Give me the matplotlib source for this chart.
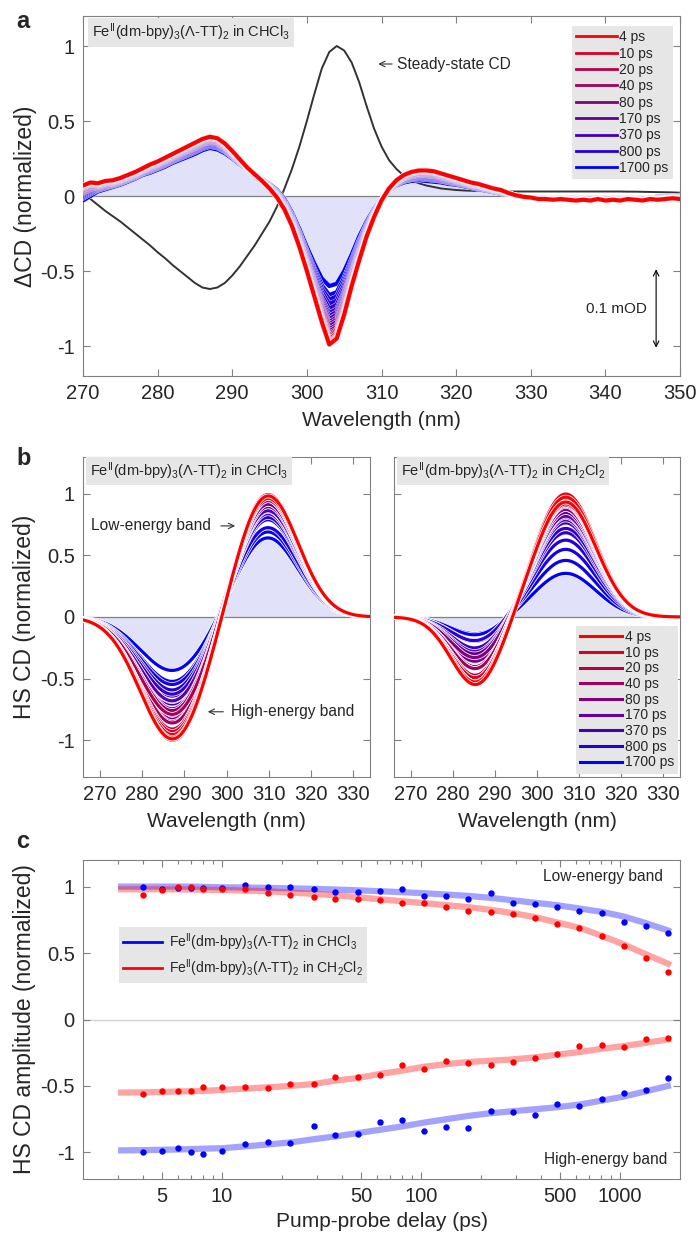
import numpy as np
import matplotlib
matplotlib.use("Agg")
import matplotlib.pyplot as plt
from matplotlib import patheffects as pe
from matplotlib.lines import Line2D
from matplotlib.ticker import FixedLocator, FixedFormatter, NullFormatter

plt.rcParams['font.family'] = ['Liberation Sans', 'DejaVu Sans']
plt.rcParams['mathtext.default'] = 'regular'
plt.rcParams['axes.unicode_minus'] = False

# ---------------- data ----------------
# pump-probe delays (ps)
delays = [4, 5, 6, 7, 8, 10, 13, 17, 22, 29, 37, 48, 62, 80, 104, 134, 173,
          224, 289, 374, 482, 625, 809, 1042, 1349, 1740]
legend_labels = ['4 ps', '10 ps', '20 ps', '40 ps', '80 ps', '170 ps',
                 '370 ps', '800 ps', '1700 ps']
legend_idx = [0, 5, 8, 10, 13, 16, 19, 22, 25]

# panel a: transient CD spectra (normalized), 270-350 nm in 1 nm steps
wl_a = np.arange(270, 351)
dcd_early = [0.07, 0.09, 0.085, 0.10, 0.105, 0.12, 0.14, 0.16, 0.185, 0.21,
             0.23, 0.255, 0.28, 0.305, 0.33, 0.355, 0.38, 0.395, 0.385, 0.35,
             0.30, 0.245, 0.19, 0.145, 0.10, 0.05, -0.01, -0.09, -0.20, -0.34,
             -0.50, -0.67, -0.84, -0.99, -0.95, -0.79, -0.60, -0.43, -0.27, -0.14,
             -0.03, 0.05, 0.105, 0.14, 0.16, 0.17, 0.17, 0.165, 0.15, 0.135,
             0.12, 0.105, 0.09, 0.08, 0.065, 0.05, 0.04, 0.02, 0.005, -0.005,
             -0.01, -0.02, -0.02, -0.025, -0.02, -0.025, -0.03, -0.025, -0.03, -0.02,
             -0.03, -0.025, -0.03, -0.02, -0.025, -0.03, -0.02, -0.025, -0.02, -0.015,
             -0.02]
dcd_late = [-0.03, 0.0, 0.03, 0.045, 0.06, 0.075, 0.095, 0.115, 0.14, 0.155,
            0.175, 0.195, 0.22, 0.24, 0.26, 0.28, 0.305, 0.32, 0.31, 0.285,
            0.25, 0.21, 0.175, 0.145, 0.115, 0.08, 0.04, -0.02, -0.11, -0.22,
            -0.34, -0.45, -0.55, -0.60, -0.585, -0.50, -0.39, -0.27, -0.17, -0.085,
            -0.02, 0.035, 0.07, 0.09, 0.10, 0.105, 0.10, 0.095, 0.09, 0.08,
            0.075, 0.065, 0.055, 0.045, 0.035, 0.025, 0.015, 0.01, 0.0, -0.005,
            -0.01, -0.015, -0.02, -0.015, -0.02, -0.02, -0.015, -0.02, -0.02, -0.015,
            -0.02, -0.02, -0.015, -0.02, -0.015, -0.02, -0.01, -0.005, -0.005, 0.0,
            0.005]
# depth of the 303 nm bleach for every delay
bleach_depth = [-0.99, -0.99, -0.985, -0.98, -0.98, -0.975, -0.97, -0.965,
                -0.955, -0.95, -0.94, -0.93, -0.92, -0.905, -0.89, -0.87, -0.855,
                -0.84, -0.82, -0.80, -0.78, -0.75, -0.72, -0.69, -0.66, -0.60]
# steady-state CD (normalized)
cd_steady = [0.01, -0.02, -0.06, -0.10, -0.135, -0.17, -0.21, -0.25, -0.29, -0.33,
             -0.375, -0.415, -0.46, -0.50, -0.54, -0.58, -0.61, -0.62, -0.61, -0.58,
             -0.53, -0.47, -0.40, -0.33, -0.25, -0.17, -0.07, 0.05, 0.18, 0.33,
             0.50, 0.68, 0.85, 0.96, 1.0, 0.97, 0.89, 0.76, 0.60, 0.45,
             0.33, 0.24, 0.18, 0.135, 0.105, 0.085, 0.07, 0.06, 0.05, 0.045,
             0.04, 0.037, 0.035, 0.033, 0.032, 0.031, 0.03, 0.03, 0.03, 0.03,
             0.03, 0.03, 0.03, 0.03, 0.03, 0.03, 0.03, 0.03, 0.03, 0.03,
             0.03, 0.03, 0.03, 0.029, 0.029, 0.028, 0.027, 0.026, 0.025, 0.024,
             0.022]

# panel c: HS CD band amplitudes
chcl3_low = [1.00, 0.98, 0.99, 0.99, 0.99, 0.99, 1.01, 1.00, 1.00, 0.98, 0.96,
             0.96, 0.97, 0.98, 0.93, 0.93, 0.91, 0.95, 0.875, 0.87, 0.85, 0.82,
             0.80, 0.735, 0.70, 0.65]
ch2cl2_low = [0.935, 0.975, 1.00, 1.00, 0.98, 0.98, 0.98, 0.955, 0.94, 0.92,
              0.91, 0.91, 0.90, 0.875, 0.875, 0.85, 0.82, 0.81, 0.79, 0.765,
              0.72, 0.685, 0.625, 0.55, 0.46, 0.355]
ch2cl2_high = [-0.56, -0.54, -0.54, -0.54, -0.505, -0.51, -0.51, -0.515, -0.485,
               -0.485, -0.43, -0.43, -0.415, -0.34, -0.37, -0.31, -0.325, -0.345,
               -0.32, -0.29, -0.26, -0.20, -0.195, -0.205, -0.15, -0.14]
chcl3_high = [-1.00, -0.99, -0.965, -1.00, -1.01, -0.99, -0.94, -0.92, -0.93,
              -0.80, -0.87, -0.86, -0.77, -0.755, -0.84, -0.81, -0.815, -0.69,
              -0.695, -0.715, -0.635, -0.65, -0.60, -0.555, -0.53, -0.44]

# kinetic fits
fit_t = [3, 4, 5, 6, 7, 8, 10, 13, 17, 22, 29, 37, 48, 62, 80, 104, 134, 173,
         224, 289, 374, 482, 625, 809, 1042, 1349, 1740, 1800]
fit_chcl3_low = [1.0, 1.0, 1.0, 1.0, 1.0, 0.998, 0.995, 0.993, 0.99, 0.987,
                 0.983, 0.978, 0.972, 0.965, 0.958, 0.95, 0.94, 0.93, 0.915,
                 0.897, 0.878, 0.86, 0.835, 0.81, 0.775, 0.725, 0.67, 0.66]
fit_ch2cl2_low = [0.98, 0.98, 0.98, 0.979, 0.978, 0.977, 0.975, 0.97, 0.965,
                  0.955, 0.945, 0.935, 0.92, 0.905, 0.89, 0.875, 0.86, 0.845,
                  0.825, 0.80, 0.77, 0.73, 0.69, 0.63, 0.565, 0.49, 0.42, 0.41]
fit_ch2cl2_high = [-0.55, -0.548, -0.545, -0.542, -0.54, -0.537, -0.53, -0.52,
                   -0.51, -0.50, -0.485, -0.46, -0.44, -0.41, -0.385, -0.355,
                   -0.335, -0.32, -0.31, -0.30, -0.285, -0.265, -0.245, -0.22,
                   -0.20, -0.175, -0.15, -0.148]
fit_chcl3_high = [-0.985, -0.983, -0.98, -0.978, -0.975, -0.972, -0.968, -0.955,
                  -0.94, -0.925, -0.90, -0.88, -0.855, -0.83, -0.805, -0.775,
                  -0.75, -0.725, -0.705, -0.69, -0.675, -0.66, -0.64, -0.61,
                  -0.58, -0.54, -0.50, -0.495]

# panel b: Gaussian band parameters (centre nm, width nm)
bands_chcl3 = {'high': (287.4, 7.8), 'low': (309.6, 7.3)}
bands_ch2cl2 = {'high': (285.6, 6.0), 'low': (306.8, 7.2)}

# ---------------- styling ----------------
GRAY = '#808080'
TXT = '#262626'
LAV = '#e1e1f9'
BOXC = '#e6e6e6'
TICK = 14.5
LAB = 15


def delay_color(t):
    f = np.log(t / delays[0]) / np.log(delays[-1] / delays[0])
    f = min(max(f, 0.0), 1.0)
    return (1 - f, 0.0, f)


colors = [delay_color(t) for t in delays]


def style(ax):
    for s in ax.spines.values():
        s.set_color(GRAY)
        s.set_linewidth(0.8)
    ax.tick_params(direction='in', top=True, right=True, length=5, width=0.8,
                   color=GRAY, labelsize=TICK, labelcolor=TXT, pad=6)
    ax.tick_params(which='minor', direction='in', top=True, right=True,
                   length=3, width=0.8, color=GRAY)


W, H = 700, 1235
fig = plt.figure(figsize=(W / 100, H / 100), dpi=100)


def add_ax(x0, y0, x1, y1):
    return fig.add_axes([x0 / W, 1 - y1 / H, (x1 - x0) / W, (y1 - y0) / H])


yt = [-1, -0.5, 0, 0.5, 1]
ytl = ['-1', '-0.5', '0', '0.5', '1']

# ---------------- panel a ----------------
axa = add_ax(83, 16, 680, 376)
early = np.array(dcd_early)
late = np.array(dcd_late)
depth = np.array(bleach_depth)
frac = (depth - depth[0]) / (depth[-1] - depth[0])
spectra = [(1 - w) * early + w * late for w in frac]

axa.fill_between(wl_a, 0, spectra[-1], color=LAV, lw=0, zorder=1)
axa.axhline(0, color=GRAY, lw=0.9, zorder=2)
axa.plot(wl_a, cd_steady, color='#333333', lw=1.4, zorder=3)
for i in range(len(delays) - 1, -1, -1):
    axa.plot(wl_a, spectra[i], color=colors[i], lw=3.0,
             zorder=4 + (len(delays) - i) * 0.01,
             path_effects=[pe.Stroke(linewidth=3.6, foreground='white'), pe.Normal()])
axa.set_xlim(270, 350)
axa.set_ylim(-1.2, 1.2)
axa.set_xticks(range(270, 351, 10))
axa.set_yticks(yt)
axa.set_yticklabels(ytl)
style(axa)
axa.set_xlabel('Wavelength (nm)', fontsize=LAB, color=TXT)
axa.xaxis.set_label_coords(0.5, -0.097)
axa.set_ylabel('ΔCD (normalized)', fontsize=16.5, color=TXT)
axa.yaxis.set_label_coords(-0.077, 0.5)

axa.text(0.015, 0.954, r'Fe$^{II}$(dm-bpy)$_3$(Λ-TT)$_2$ in CHCl$_3$', transform=axa.transAxes,
         fontsize=10.5, color=TXT, va='center', ha='left',
         bbox=dict(facecolor=BOXC, edgecolor='none', pad=2.5))
axa.annotate('', xy=(309.2, 0.88), xytext=(311.8, 0.88),
             arrowprops=dict(arrowstyle='->', color='#333333', lw=0.8))
axa.text(312.1, 0.88, 'Steady-state CD', fontsize=11.2, color=TXT, va='center', ha='left')
axa.annotate('', xy=(346.8, -0.47), xytext=(346.8, -1.03),
             arrowprops=dict(arrowstyle='<->', color='black', lw=0.8))
axa.text(345.6, -0.75, '0.1 mOD', fontsize=11, color=TXT, va='center', ha='right')

handles = [Line2D([], [], color=colors[i], lw=2) for i in legend_idx]
lga = axa.legend(handles, legend_labels, loc='upper right', bbox_to_anchor=(0.988, 0.972),
                 fontsize=10, frameon=True, facecolor=BOXC, edgecolor='none', framealpha=1,
                 fancybox=False, handlelength=2.9, handletextpad=0.2, labelspacing=0.17,
                 borderpad=0.3, borderaxespad=0)
for t in lga.get_texts():
    t.set_color(TXT)

# ---------------- panel b ----------------
wl_b = np.linspace(266, 334, 400)


def gauss(x, c, s):
    return np.exp(-0.5 * ((x - c) / s) ** 2)


def panel_b(ax, bands, amp_low, amp_high, label):
    gh = gauss(wl_b, *bands['high'])
    gl = gauss(wl_b, *bands['low'])
    curves = [al * gl + ah * gh for al, ah in zip(amp_low, amp_high)]
    ax.fill_between(wl_b, 0, curves[-1], color=LAV, lw=0, zorder=1)
    ax.axhline(0, color=GRAY, lw=0.9, zorder=2)
    for i in range(len(curves) - 1, -1, -1):
        ax.plot(wl_b, curves[i], color=colors[i], lw=2.3, zorder=4 + (len(curves) - i) * 0.01,
                path_effects=[pe.Stroke(linewidth=3.4, foreground='white'), pe.Normal()])
    ax.set_xlim(266, 334)
    ax.set_ylim(-1.3, 1.3)
    ax.set_xticks(range(270, 331, 10))
    ax.set_yticks(yt)
    style(ax)
    ax.set_xlabel('Wavelength (nm)', fontsize=LAB, color=TXT)
    ax.xaxis.set_label_coords(0.5, -0.11)
    ax.text(0.024, 0.956, label, transform=ax.transAxes, fontsize=10.5, color=TXT,
            va='center', ha='left', bbox=dict(facecolor=BOXC, edgecolor='none', pad=2.5))


axb1 = add_ax(83, 457, 370, 777)
panel_b(axb1, bands_chcl3, chcl3_low, chcl3_high,
        r'Fe$^{II}$(dm-bpy)$_3$(Λ-TT)$_2$ in CHCl$_3$')
axb1.set_yticklabels(ytl)
axb1.set_ylabel('HS CD (normalized)', fontsize=16.5, color=TXT)
axb1.yaxis.set_label_coords(-0.164, 0.5)
axb1.annotate('', xy=(302.7, 0.74), xytext=(298.0, 0.74),
              arrowprops=dict(arrowstyle='->', color='#333333', lw=0.8))
axb1.text(267.9, 0.74, 'Low-energy band', fontsize=11.2, color=TXT, va='center', ha='left')
axb1.annotate('', xy=(294.9, -0.77), xytext=(299.9, -0.77),
              arrowprops=dict(arrowstyle='->', color='#333333', lw=0.8))
axb1.text(301.1, -0.77, 'High-energy band', fontsize=11.2, color=TXT, va='center', ha='left')

axb2 = add_ax(394, 457, 680, 777)
panel_b(axb2, bands_ch2cl2, ch2cl2_low, ch2cl2_high,
        r'Fe$^{II}$(dm-bpy)$_3$(Λ-TT)$_2$ in CH$_2$Cl$_2$')
axb2.set_yticklabels([])
handles_b = [Line2D([], [], color=colors[i], lw=2.2) for i in legend_idx]
lgb = axb2.legend(handles_b, legend_labels, loc='upper right', bbox_to_anchor=(0.993, 0.472),
                  fontsize=10, frameon=True, facecolor=BOXC, edgecolor='none', framealpha=1,
                  fancybox=False, handlelength=3.0, handletextpad=0.2, labelspacing=0.12,
                  borderpad=0.3, borderaxespad=0)
for t in lgb.get_texts():
    t.set_color(TXT)

# ---------------- panel c ----------------
axc = add_ax(83, 860, 680, 1179)
BLUE = '#0000ff'
RED = '#ff0000'
axc.axhline(0, color='#d4d4d4', lw=1.0, zorder=1)
for fy, c in [(fit_chcl3_low, BLUE), (fit_ch2cl2_low, RED),
              (fit_ch2cl2_high, RED), (fit_chcl3_high, BLUE)]:
    axc.plot(fit_t, fy, color=c, lw=4.5, alpha=0.36, solid_capstyle='butt', zorder=2)
for py, c in [(chcl3_low, BLUE), (ch2cl2_low, RED),
              (ch2cl2_high, RED), (chcl3_high, BLUE)]:
    axc.plot(delays, py, 'o', color=c, ms=4.6, mew=0, zorder=3)
axc.set_xscale('log')
axc.set_xlim(2, 2000)
axc.set_ylim(-1.2, 1.2)
axc.xaxis.set_major_locator(FixedLocator([5, 10, 50, 100, 500, 1000]))
axc.xaxis.set_major_formatter(FixedFormatter(['5', '10', '50', '100', '500', '1000']))
axc.xaxis.set_minor_locator(FixedLocator([3, 4, 6, 7, 8, 9, 20, 30, 40, 60, 70, 80, 90,
                                          200, 300, 400, 600, 700, 800, 900]))
axc.xaxis.set_minor_formatter(NullFormatter())
axc.set_yticks(yt)
axc.set_yticklabels(ytl)
style(axc)
axc.set_xlabel('Pump-probe delay (ps)', fontsize=LAB, color=TXT)
axc.xaxis.set_label_coords(0.5, -0.105)
axc.set_ylabel('HS CD amplitude (normalized)', fontsize=16.5, color=TXT)
axc.yaxis.set_label_coords(-0.079, 0.5)
axc.text(0.972, 0.947, 'Low-energy band', transform=axc.transAxes, fontsize=11.2,
         color=TXT, ha='right', va='center')
axc.text(0.978, 0.06, 'High-energy band', transform=axc.transAxes, fontsize=11.2,
         color=TXT, ha='right', va='center')
hc = [Line2D([], [], color=BLUE, lw=2), Line2D([], [], color=RED, lw=2)]
lgc = axc.legend(hc, [r'Fe$^{II}$(dm-bpy)$_3$(Λ-TT)$_2$ in CHCl$_3$',
                      r'Fe$^{II}$(dm-bpy)$_3$(Λ-TT)$_2$ in CH$_2$Cl$_2$'],
                 loc='upper left', bbox_to_anchor=(0.06, 0.79), fontsize=10,
                 frameon=True, facecolor=BOXC, edgecolor='none', framealpha=1,
                 fancybox=False, handlelength=2.8, handletextpad=0.5, labelspacing=0.35,
                 borderpad=0.3, borderaxespad=0)
for t in lgc.get_texts():
    t.set_color(TXT)

# panel letters
for letter, yb in [('a', 28), ('b', 465), ('c', 848)]:
    fig.text(16 / W, 1 - yb / H, letter, fontsize=17, fontweight='bold', color=TXT,
             ha='left', va='baseline')

fig.savefig('out.png', dpi=100)
